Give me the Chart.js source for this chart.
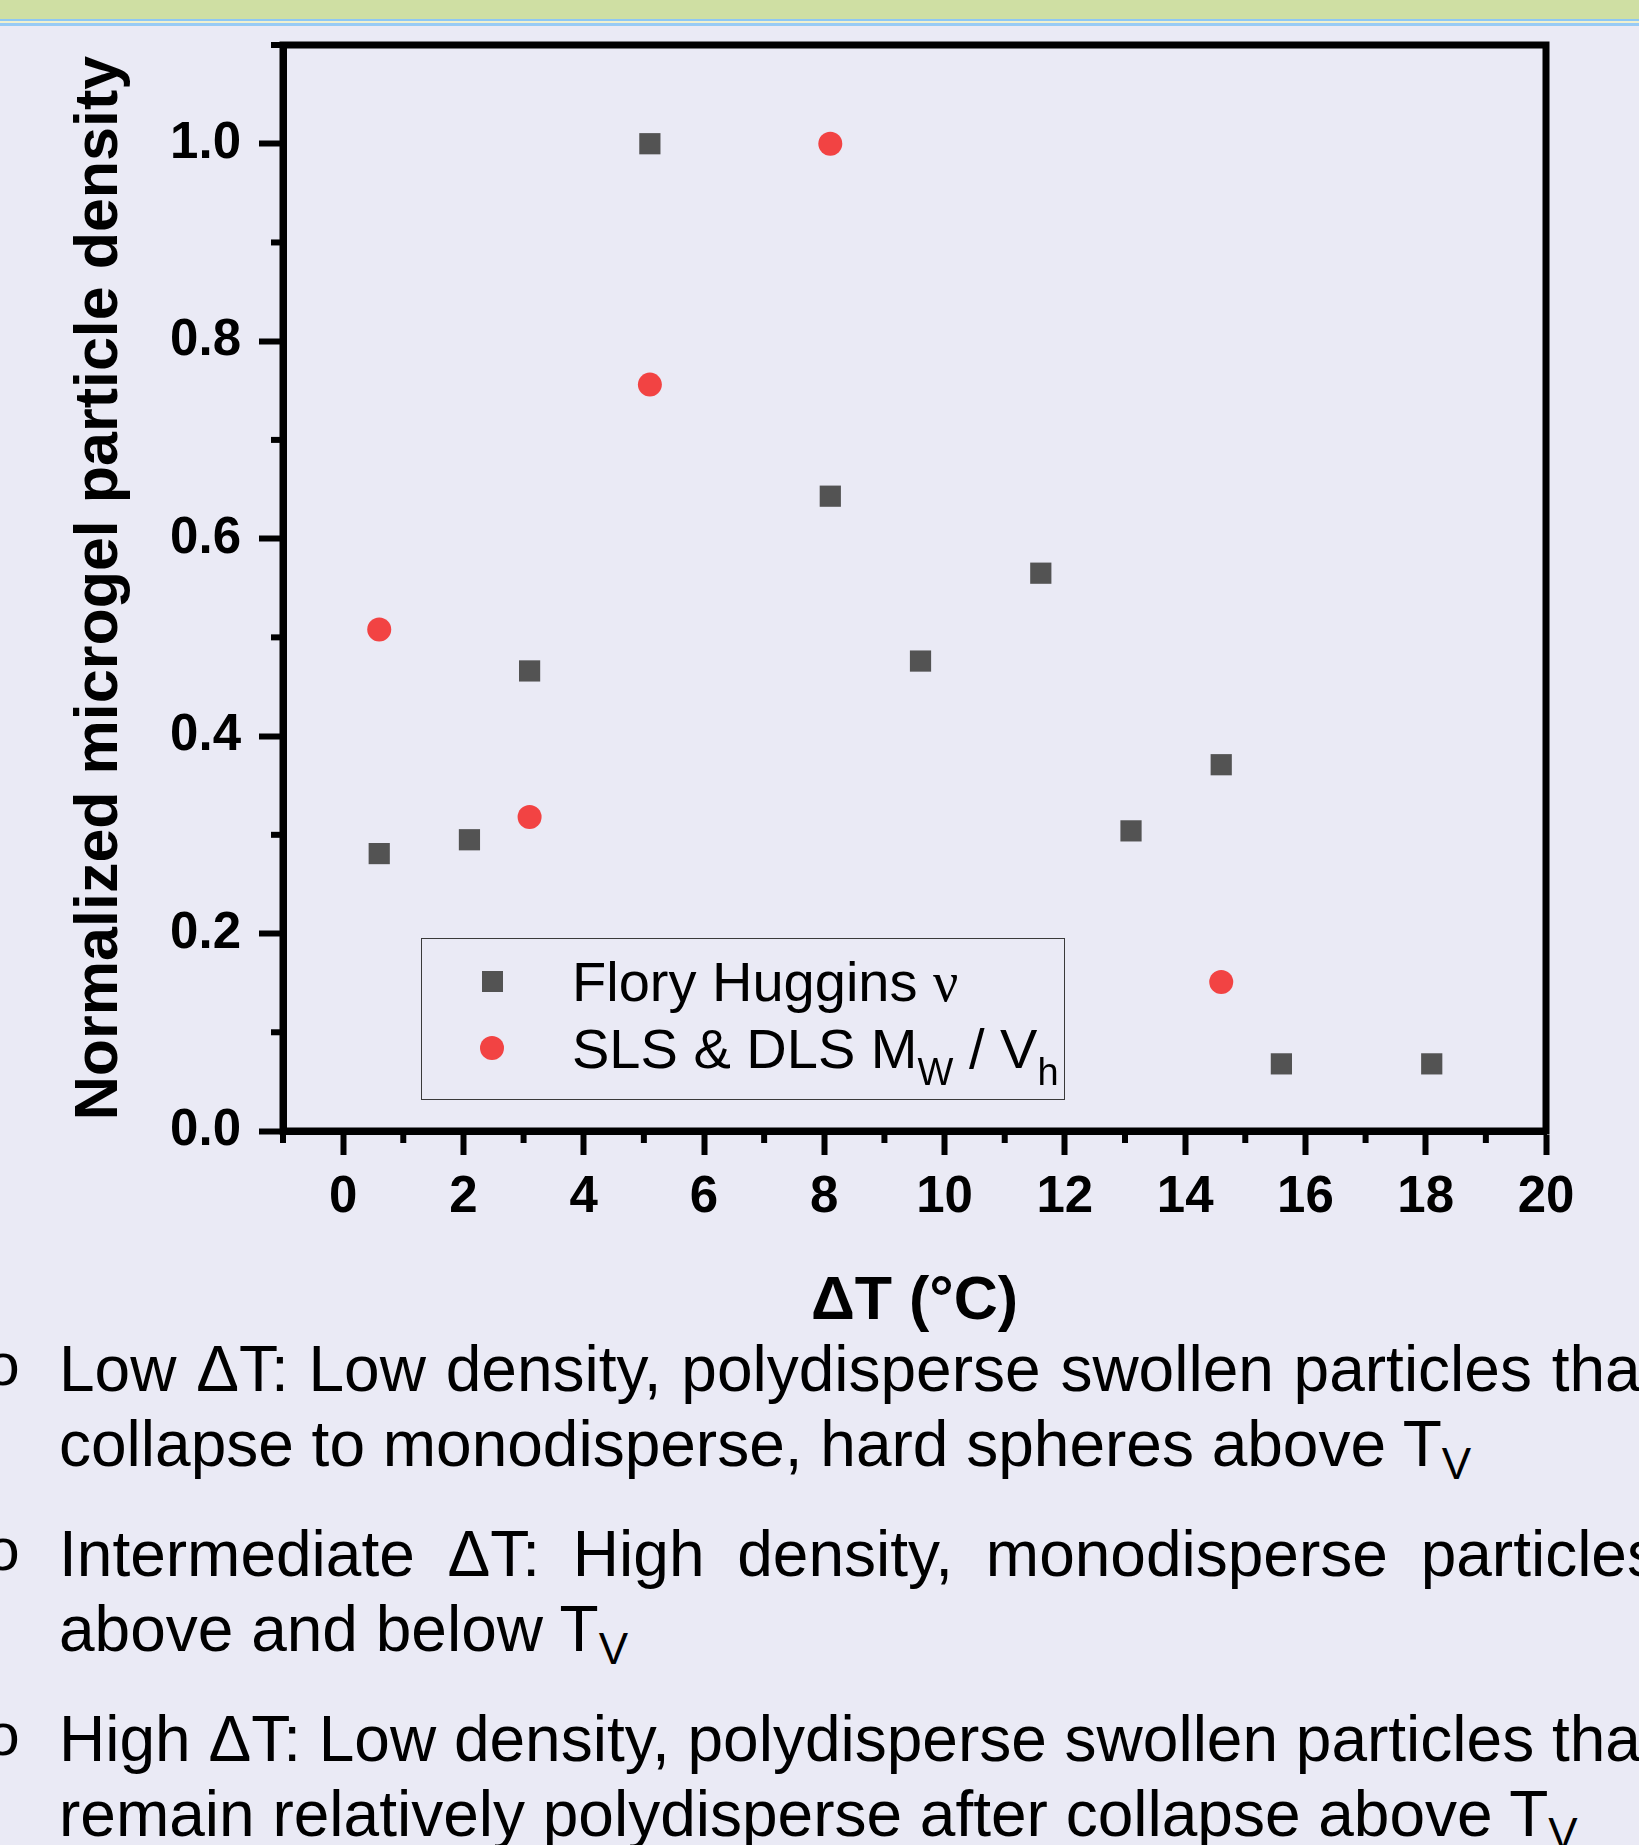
<!DOCTYPE html>
<html>
<head>
<meta charset="utf-8">
<script src="https://cdn.jsdelivr.net/npm/chart.js@4.4.0/dist/chart.umd.min.js"></script>
<style>
  html, body { margin: 0; padding: 0; }
  body {
    width: 1639px; height: 1845px; overflow: hidden; position: relative;
    background: #EAEAF5; font-family: "Liberation Sans", Arial, sans-serif; color: #000;
  }
  .band { position: absolute; left: 0; width: 100%; }
  #plot { position: absolute; left: 0; top: 0; }
  #legend {
    position: absolute; left: 421px; top: 938px; width: 642px; height: 160px;
    border: 1.5px solid #3a3a3a;
  }
  #legend .mark { position: absolute; }
  #legend .label {
    position: absolute; left: 150px; font-size: 56px; line-height: 56px; white-space: nowrap;
  }
  #legend sub { font-size: 38px; vertical-align: -17px; line-height: 0; }
  .nu { font-family: "Liberation Serif", serif; }
  .line {
    position: absolute; left: 59px; font-size: 64px; line-height: 75px; white-space: nowrap;
  }
  .line sub { font-size: 44px; vertical-align: -13px; line-height: 0; }
  .bullet {
    position: absolute; left: -15px; font-size: 60px; line-height: 75px;
    font-family: "Liberation Mono", monospace;
  }
</style>
</head>
<body>
<div class="band" style="top:0;height:19px;background:#CFDFA3"></div>
<div class="band" style="top:19px;height:2px;background:#8EC7F3"></div>
<div class="band" style="top:21px;height:2px;background:#EFF0CF"></div>
<div class="band" style="top:23px;height:3px;background:#98CBF5"></div>

<canvas id="plot" width="1639" height="1340"></canvas>
<div id="legend"></div>
<div id="notes"></div>

<script>
// ΔT (°C) for each series
const floryX = [0.6, 2.1, 3.1, 5.1, 8.1, 9.6, 11.6, 13.1, 14.6, 15.6, 18.1];
const floryY = [0.281, 0.295, 0.466, 1.0, 0.643, 0.476, 0.565, 0.304, 0.371, 0.068, 0.068];
const lightX = [0.6, 3.1, 5.1, 8.1, 14.6];
const lightY = [0.508, 0.318, 0.756, 1.0, 0.151];

const seriesNames = ["Flory Huggins ν", "SLS & DLS Mw / Vh"];
const legendLabels = [
    'Flory Huggins <span class="nu">ν</span>',
    'SLS &amp; DLS M<sub>W</sub> / V<sub>h</sub>'
];

const xTicks = [0, 2, 4, 6, 8, 10, 12, 14, 16, 18, 20];
const xMinorTicks = [-1, 1, 3, 5, 7, 9, 11, 13, 15, 17, 19];
const yTicks = [0.0, 0.2, 0.4, 0.6, 0.8, 1.0];
const yMinorTicks = [0.1, 0.3, 0.5, 0.7, 0.9, 1.1];

const notes = [
    ['Low ΔT: Low density, polydisperse swollen particles that',
     'collapse to monodisperse, hard spheres above T<sub>V</sub>'],
    ['Intermediate ΔT: High density, monodisperse particles',
     'above and below T<sub>V</sub>'],
    ['High ΔT: Low density, polydisperse swollen particles that',
     'remain relatively polydisperse after collapse above T<sub>V</sub>']
];
// extra word spacing of the justified first lines
const noteSpacing = [[2, 0], [15, 0], [0, 0]];

const FONT = "'Liberation Sans', Arial, sans-serif";

// minor ticks plus the closed frame around the plot area
const frameAndMinorTicks = {
    id: "frameAndMinorTicks",
    afterDraw(chart) {
        const { ctx, chartArea: a, scales: { x, y } } = chart;
        ctx.save();
        ctx.strokeStyle = "#000";
        ctx.lineWidth = 6;
        xMinorTicks.forEach(v => {
            const px = x.getPixelForValue(v);
            ctx.beginPath();
            ctx.moveTo(px, a.bottom);
            ctx.lineTo(px, a.bottom + 12);
            ctx.stroke();
        });
        yMinorTicks.forEach(v => {
            const py = y.getPixelForValue(v);
            ctx.beginPath();
            ctx.moveTo(a.left, py);
            ctx.lineTo(a.left - 12, py);
            ctx.stroke();
        });
        ctx.lineWidth = 7;
        ctx.strokeRect(a.left, a.top, a.right - a.left, a.bottom - a.top);
        ctx.restore();
    }
};

const axisGrid = {
    display: true, drawOnChartArea: false, drawTicks: true,
    tickLength: 24, tickWidth: 6, tickColor: "#000"
};
const axisBorder = { display: true, width: 7, color: "#000" };
const tickFont = { family: FONT, size: 51, weight: "bold" };

const chart = new Chart(document.getElementById("plot"), {
    type: "scatter",
    data: {
        datasets: [{
            label: seriesNames[0],
            data: floryX.map((v, i) => ({ x: v, y: floryY[i] })),
            pointStyle: "rect",
            pointRadius: 15,
            pointBorderWidth: 0,
            backgroundColor: "#535353",
            borderColor: "#535353"
        }, {
            label: seriesNames[1],
            data: lightX.map((v, i) => ({ x: v, y: lightY[i] })),
            pointStyle: "circle",
            pointRadius: 12,
            pointBorderWidth: 0,
            backgroundColor: "#F24343",
            borderColor: "#F24343"
        }]
    },
    options: {
        responsive: false,
        animation: false,
        devicePixelRatio: 1,
        events: [],
        layout: { padding: { top: 45, right: 93, left: 0, bottom: 0 } },
        plugins: { legend: { display: false }, tooltip: { enabled: false } },
        scales: {
            x: {
                type: "linear", min: -1, max: 20,
                afterBuildTicks: s => { s.ticks = xTicks.map(v => ({ value: v })); },
                afterFit: s => { s.height = 209; s.paddingLeft = 0; s.paddingRight = 0; },
                ticks: {
                    font: tickFont, color: "#000", padding: 12,
                    maxRotation: 0, autoSkip: false,
                    callback: v => String(v)
                },
                grid: axisGrid,
                border: axisBorder,
                title: {
                    display: true, text: "ΔT (°C)", color: "#000",
                    font: { family: FONT, size: 61, weight: "bold" },
                    padding: { top: 0, bottom: 1 }
                }
            },
            y: {
                type: "linear", min: 0, max: 1.1,
                afterBuildTicks: s => { s.ticks = yTicks.map(v => ({ value: v })); },
                afterFit: s => { s.width = 283; s.paddingTop = 0; s.paddingBottom = 0; },
                ticks: {
                    font: tickFont, color: "#000", padding: 18, autoSkip: false,
                    callback: v => v.toFixed(1)
                },
                grid: axisGrid,
                border: axisBorder,
                title: {
                    display: true, text: "Normalized microgel particle density", color: "#000",
                    font: { family: FONT, size: 61, weight: "bold" },
                    padding: { top: 64, bottom: 0 }
                }
            }
        }
    },
    plugins: [frameAndMinorTicks]
});

// legend built from the dataset styles
const legend = document.getElementById("legend");
chart.data.datasets.forEach((ds, i) => {
    const rowTop = i * 67;
    const mark = document.createElement("div");
    mark.className = "mark";
    const side = ds.pointStyle === "rect" ? 21 : 24;
    mark.style.width = side + "px";
    mark.style.height = side + "px";
    mark.style.left = (70 - side / 2) + "px";
    mark.style.top = (42 + rowTop - side / 2) + "px";
    mark.style.background = ds.backgroundColor;
    if (ds.pointStyle === "circle") mark.style.borderRadius = "50%";
    legend.appendChild(mark);

    const label = document.createElement("div");
    label.className = "label";
    label.style.top = (15 + rowTop) + "px";
    label.innerHTML = legendLabels[i];
    legend.appendChild(label);
});

// bullet notes under the chart
const noteTops = [1332, 1517, 1702];
const notesBox = document.getElementById("notes");
notes.forEach((para, p) => {
    const bullet = document.createElement("div");
    bullet.className = "bullet";
    bullet.style.top = noteTops[p] + "px";
    bullet.textContent = "o";
    notesBox.appendChild(bullet);
    para.forEach((text, k) => {
        const line = document.createElement("div");
        line.className = "line";
        line.style.top = (noteTops[p] + k * 75) + "px";
        line.style.wordSpacing = noteSpacing[p][k] + "px";
        line.innerHTML = text;
        notesBox.appendChild(line);
    });
});
</script>
</body>
</html>
